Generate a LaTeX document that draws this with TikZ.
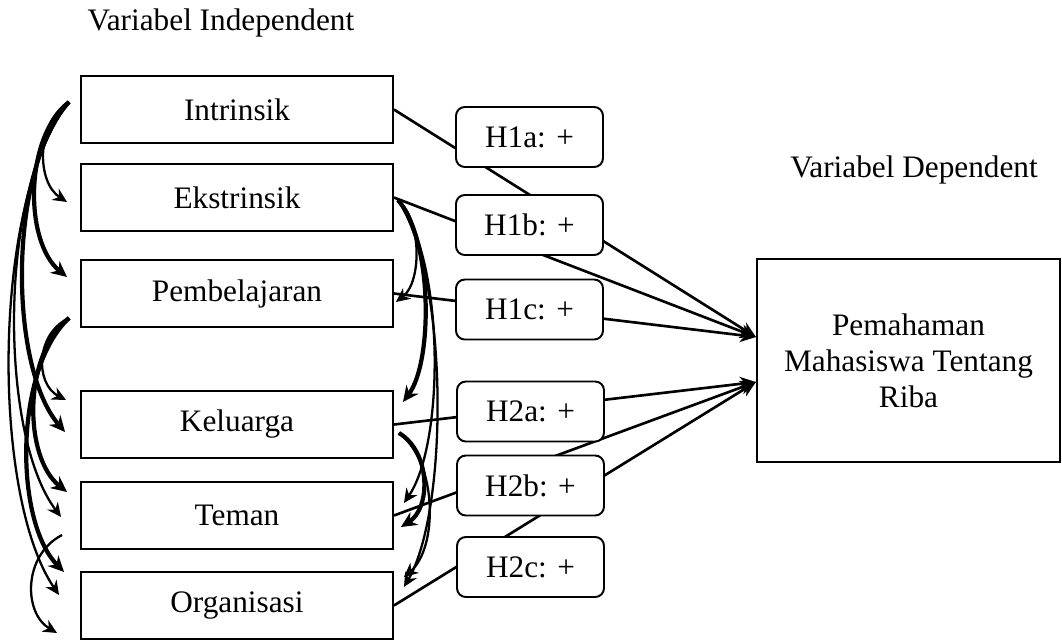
\documentclass[tikz,border=0pt]{standalone}
\usepackage{fontspec}
\setmainfont{Liberation Serif}
\usepackage{tikz}
\usetikzlibrary{arrows.meta, calc}

\begin{document}
\begin{tikzpicture}[
  x=0.02cm, y=-0.02cm,
  font=\fontsize{17.8}{20.5}\selectfont,
  varbox/.style={rectangle, draw, line width=1.1pt,
    minimum width=6.24cm, minimum height=1.34cm, align=center},
  hypo/.style={rectangle, rounded corners=5pt, draw, line width=1.1pt, fill=white,
    minimum width=2.94cm, minimum height=1.2cm},
  depbox/.style={rectangle, draw, line width=1.3pt,
    minimum width=6.06cm, minimum height=4.06cm, align=center},
  effect/.style={-{Stealth[length=9pt, width=8pt]}, line width=1.5pt},
  corr/.style={-{Stealth[length=8pt, width=7.5pt]}, line width=1.3pt},
  corrthick/.style={-{Stealth[length=9pt, width=8.5pt]}, line width=2.4pt}
]
\useasboundingbox (0,0) rectangle (1062,640);

% judul kelompok variabel
\node[anchor=base] (indep) at (221,30) {Variabel Independent};
\node[anchor=base] (dep title) at (914,177) {Variabel Dependent};

% variabel independen
\node[varbox] (intr) at (237,109.5) {Intrinsik};
\node[varbox] (eks) at (237,197.5) {Ekstrinsik};
\node[varbox] (pem) at (237,293.5) {Pembelajaran};
\node[varbox] (kel) at (237,424.5) {Keluarga};
\node[varbox] (tem) at (237,515.5) {Teman};
\node[varbox] (org) at (237,605.5) {Organisasi};

% variabel dependen
\node[depbox] (dep) at (908.5,360.5) {Pemahaman\\Mahasiswa Tentang\\Riba};
\coordinate (t1) at ([yshift=0.47cm]dep.west);
\coordinate (t2) at ([yshift=-0.43cm]dep.west);

% pengaruh ke variabel dependen
\draw[effect] (intr.east) -- (t1);
\draw[effect] (eks.east) -- (t1);
\draw[effect] (pem.east) -- (t1);
\draw[effect] (kel.east) -- (t2);
\draw[effect] (tem.east) -- (t2);
\draw[effect] (org.east) -- (t2);

% hipotesis
\node[hypo] (h1a) at (529.5,137) {H1a: +};
\node[hypo] (h1b) at (529.5,225) {H1b: +};
\node[hypo] (h1c) at (529.5,309.5) {H1c: +};
\node[hypo] (h2a) at (530.5,411.5) {H2a: +};
\node[hypo] (h2b) at (530.5,485.5) {H2b: +};
\node[hypo] (h2c) at (530.5,567) {H2c: +};

% korelasi sisi kiri
\draw[corr] ([shift={(-11,-7.5)}]intr.west) .. controls +(-33,20) and +(-31,-20) .. ([shift={(-13,4.5)}]eks.west);
\draw[corrthick] ([shift={(-11,-7.5)}]intr.west) .. controls +(-45,35) and +(-43,-35) .. ([shift={(-13,-16.5)}]pem.west);
\draw[corrthick] ([shift={(-11,-7.5)}]intr.west) .. controls +(-61,66) and +(-57,-66) .. ([shift={(-15,7.5)}]kel.west);
\draw[corr] ([shift={(-11,-7.5)}]intr.west) .. controls +(-71,83) and +(-63,-83) .. ([shift={(-19,1.5)}]tem.west);
\draw[corr] ([shift={(-11,-7.5)}]intr.west) .. controls +(-78,99) and +(-68,-99) .. ([shift={(-21,-10.5)}]org.west);
\draw[corr] ([shift={(-11,24.5)}]pem.west) .. controls +(-34,16) and +(-31,-16) .. ([shift={(-14,-24.5)}]kel.west);
\draw[corrthick] ([shift={(-11,24.5)}]pem.west) .. controls +(-46,35) and +(-44,-35) .. ([shift={(-13,-23.5)}]tem.west);
\draw[corrthick] ([shift={(-11,24.5)}]pem.west) .. controls +(-55,51) and +(-50,-51) .. ([shift={(-16,-33.5)}]org.west);
\draw[corr] ([shift={(-18,19.5)}]tem.west) .. controls +(-39,20) and +(-34,-20) .. ([shift={(-23,27.5)}]org.west);

% korelasi sisi kanan
\draw[corr] ([shift={(4,2.5)}]eks.east) .. controls +(24,20) and +(26,-20) .. ([shift={(2,8.5)}]pem.east);
\draw[corrthick] ([shift={(4,2.5)}]eks.east) .. controls +(35,40) and +(30,-40) .. ([shift={(9,-22.5)}]kel.east);
\draw[corr] ([shift={(4,2.5)}]eks.east) .. controls +(47,60) and +(41,-60) .. ([shift={(10,-12.5)}]tem.east);
\draw[corr] ([shift={(4,2.5)}]eks.east) .. controls +(51,77) and +(45,-77) .. ([shift={(10,-18.5)}]org.east);
\draw[corrthick] ([shift={(5,8.5)}]kel.east) .. controls +(32,19) and +(30,-19) .. ([shift={(7,11.5)}]tem.east);
\draw[corr] ([shift={(5,8.5)}]kel.east) .. controls +(39,29) and +(34,-29) .. ([shift={(10,-28.5)}]org.east);
\end{tikzpicture}
\end{document}
